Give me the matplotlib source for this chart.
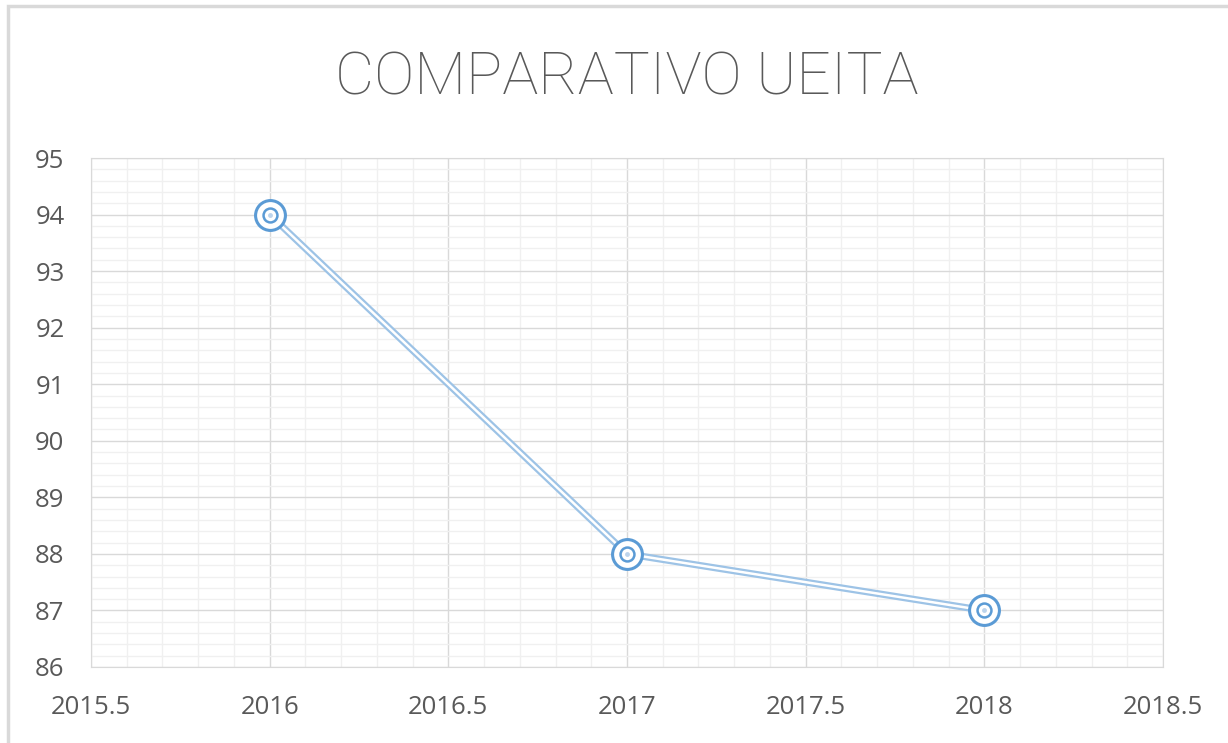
import numpy as np
import matplotlib.pyplot as plt
from matplotlib.ticker import MultipleLocator
from matplotlib.patches import Rectangle

years = [2016, 2017, 2018]
values = [94, 88, 87]
title = 'COMPARATIVO UEITA'
blue = '#5B9BD5'
txt = '#595959'

fig = plt.figure(figsize=(12.28, 7.43), dpi=100)
fig.patches.append(Rectangle((8 / 1228, -0.1), 1.2, 1.1 - 6 / 743, transform=fig.transFigure,
                             fill=False, edgecolor='#D9D9D9', linewidth=2.5))
ax = fig.add_axes([91 / 1228, 1 - 667 / 743, 1072 / 1228, 509 / 743])

ax.set_xlim(2015.5, 2018.5)
ax.set_ylim(86, 95)
ax.xaxis.set_major_locator(MultipleLocator(0.5))
ax.xaxis.set_minor_locator(MultipleLocator(0.1))
ax.yaxis.set_major_locator(MultipleLocator(1))
ax.yaxis.set_minor_locator(MultipleLocator(0.2))
ax.xaxis.set_major_formatter(lambda v, p: f'{v:g}')
ax.grid(which='major', color='#D9D9D9', linewidth=1.0)
ax.grid(which='minor', color='#F0F0F0', linewidth=1.0)
ax.set_axisbelow(True)
for s in ax.spines.values():
    s.set_color('#D9D9D9')
ax.tick_params(which='both', length=0, labelsize=18.5, labelcolor=txt)
ax.tick_params(axis='x', pad=20)
ax.tick_params(axis='y', pad=19)

# double line
ax.plot(years, values, color='#9DC3E6', linewidth=5, solid_capstyle='round', zorder=3)
ax.plot(years, values, color='white', linewidth=1.8, zorder=4)
# double circle markers
ax.plot(years, values, linestyle='none', marker='o', markersize=21.5, markerfacecolor='white',
        markeredgecolor=blue, markeredgewidth=2.2, zorder=5)
ax.plot(years, values, linestyle='none', marker='o', markersize=10, markerfacecolor='white',
        markeredgecolor=blue, markeredgewidth=1.8, zorder=6)
ax.plot(years, values, linestyle='none', marker='o', markersize=3.5, markerfacecolor='#BDD4EC',
        markeredgecolor='none', zorder=7)

fig.text(627 / 1228, 1 - 78 / 743, title, ha='center', va='center', fontsize=43.5,
         color=txt, family=['Roboto', 'DejaVu Sans'], fontweight='light')
for lab in ax.get_xticklabels() + ax.get_yticklabels():
    lab.set_family(['Open Sans', 'DejaVu Sans'])

fig.savefig('out.png', dpi=100)
